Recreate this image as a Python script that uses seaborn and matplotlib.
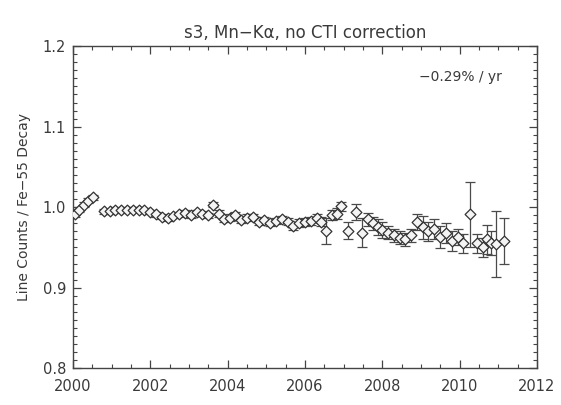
import numpy as np
import pandas as pd
import matplotlib
matplotlib.use("Agg")
import matplotlib.pyplot as plt
import seaborn as sns
from matplotlib.ticker import MultipleLocator

# Data
years = [2000.05, 2000.15, 2000.28, 2000.40, 2000.52, 2000.80, 2000.95, 2001.10,
         2001.25, 2001.40, 2001.55, 2001.70, 2001.85, 2002.00, 2002.15, 2002.30,
         2002.45, 2002.60, 2002.75, 2002.90, 2003.05, 2003.20, 2003.35, 2003.50,
         2003.62, 2003.78, 2003.90, 2004.05, 2004.20, 2004.35, 2004.50, 2004.65,
         2004.80, 2004.95, 2005.10, 2005.25, 2005.40, 2005.55, 2005.70, 2005.85,
         2006.00, 2006.15, 2006.30, 2006.42, 2006.55, 2006.70, 2006.82, 2006.94,
         2007.12, 2007.33, 2007.48, 2007.62, 2007.75, 2007.88, 2008.00, 2008.15,
         2008.30, 2008.45, 2008.60, 2008.75, 2008.90, 2009.05, 2009.18, 2009.35,
         2009.50, 2009.65, 2009.80, 2009.95, 2010.10, 2010.27, 2010.45, 2010.60,
         2010.72, 2010.82, 2010.95, 2011.15]
ratio = [0.991, 0.997, 1.003, 1.008, 1.012, 0.995, 0.995, 0.997,
         0.996, 0.997, 0.997, 0.997, 0.996, 0.994, 0.991, 0.988,
         0.986, 0.989, 0.991, 0.993, 0.990, 0.994, 0.992, 0.990,
         1.003, 0.992, 0.985, 0.987, 0.990, 0.984, 0.987, 0.988,
         0.982, 0.984, 0.980, 0.983, 0.985, 0.982, 0.976, 0.980,
         0.981, 0.983, 0.986, 0.982, 0.970, 0.990, 0.992, 1.001,
         0.971, 0.994, 0.968, 0.985, 0.980, 0.975, 0.972, 0.968,
         0.965, 0.962, 0.960, 0.965, 0.982, 0.975, 0.970, 0.973,
         0.963, 0.968, 0.958, 0.963, 0.955, 0.991, 0.955, 0.950,
         0.960, 0.955, 0.954, 0.958]
ratio_err = [0.003, 0.003, 0.003, 0.003, 0.003, 0.003, 0.003, 0.003,
             0.003, 0.003, 0.003, 0.003, 0.003, 0.003, 0.003, 0.003,
             0.003, 0.003, 0.003, 0.003, 0.003, 0.003, 0.003, 0.003,
             0.003, 0.004, 0.004, 0.004, 0.004, 0.004, 0.004, 0.004,
             0.004, 0.004, 0.004, 0.004, 0.004, 0.004, 0.004, 0.005,
             0.005, 0.005, 0.005, 0.006, 0.016, 0.006, 0.007, 0.006,
             0.010, 0.010, 0.018, 0.008, 0.008, 0.010, 0.010, 0.008,
             0.008, 0.008, 0.008, 0.008, 0.010, 0.014, 0.012, 0.012,
             0.014, 0.012, 0.012, 0.010, 0.012, 0.040, 0.012, 0.012,
             0.018, 0.015, 0.041, 0.028]

title = "s3, Mn\u2212K\u03b1, no CTI correction"
slope_label = "\u22120.29% / yr"

df = pd.DataFrame({"year": years, "ratio": ratio, "err": ratio_err})

sns.set_style("ticks")
plt.rcParams["font.family"] = ["DejaVu Sans"]
txt = "#3a3a3a"

fig = plt.figure(figsize=(5.61, 4.05), dpi=100)
ax = fig.add_axes([0.130, 0.091, 0.827, 0.795])

ax.errorbar(df["year"], df["ratio"], yerr=df["err"], fmt="none",
            ecolor="#4a4a4a", elinewidth=0.9, capsize=3.5, capthick=0.9, zorder=2)
sns.scatterplot(data=df, x="year", y="ratio", ax=ax, marker="D", s=30,
                facecolor="#f4f4f4", edgecolor="#333333", linewidth=0.9, zorder=3)

ax.set_xlim(2000, 2012)
ax.set_ylim(0.8, 1.2)
ax.xaxis.set_major_locator(MultipleLocator(2))
ax.xaxis.set_minor_locator(MultipleLocator(0.5))
ax.yaxis.set_major_locator(MultipleLocator(0.1))
ax.yaxis.set_minor_locator(MultipleLocator(0.01))
ax.yaxis.set_major_formatter(matplotlib.ticker.FormatStrFormatter("%.1f"))
ax.tick_params(which="both", direction="in", top=True, right=True,
               colors="#444444", labelcolor=txt, labelsize=10.5)
ax.tick_params(axis="x", pad=8)
ax.tick_params(axis="y", pad=5)
ax.tick_params(which="major", length=6, width=0.9)
ax.tick_params(which="minor", length=3, width=0.8)
for sp in ax.spines.values():
    sp.set_color("#444444")
    sp.set_linewidth(1.0)

ax.set_xlabel("")
ax.set_ylabel("Line Counts / Fe\u221255 Decay", fontsize=10, color=txt, labelpad=8)
ax.set_title(title, fontsize=12, color=txt, pad=6)
ax.text(0.925, 0.905, slope_label, transform=ax.transAxes, ha="right",
        va="center", fontsize=10, color=txt)

fig.savefig("out.png", dpi=100)
